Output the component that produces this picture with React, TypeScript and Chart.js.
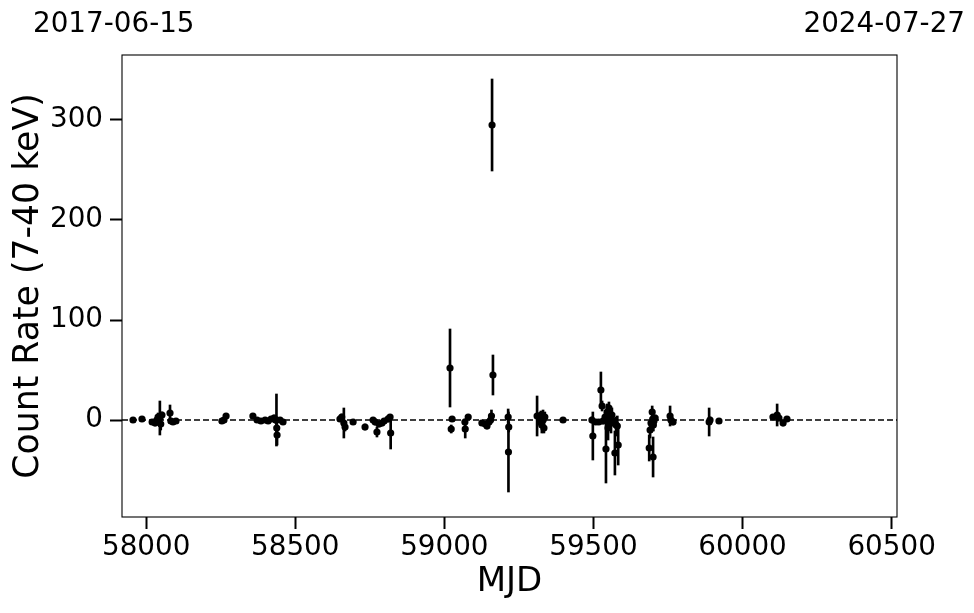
import React, { useEffect, useRef } from 'react';
import { Chart, registerables } from 'chart.js';

Chart.register(...registerables);

const mjd = [
  57956, 57986, 58020, 58030, 58036, 58040, 58046, 58049, 58053, 58080, 58083, 58090, 58100,
  58254, 58261, 58268, 58358, 58372, 58385, 58399, 58409, 58419, 58429, 58434, 58437, 58438, 58439, 58449, 58459,
  58650, 58656, 58663, 58667, 58694, 58734, 58761, 58768, 58774, 58781, 58791, 58798, 58811, 58818, 58820,
  59019, 59023, 59026, 59069, 59070, 59080, 59126, 59137, 59143, 59150, 59155, 59158, 59160, 59163,
  59214, 59216, 59215, 59311, 59321, 59324, 59327, 59331, 59334, 59337, 59398,
  59495, 59498, 59508, 59518, 59525, 59529, 59532, 59539, 59542, 59546, 59549, 59552, 59556, 59559, 59562, 59566,
  59572, 59576, 59580, 59583,
  59687, 59690, 59693, 59697, 59699, 59700, 59701, 59703, 59707, 59757, 59760, 59767,
  59888, 59891, 59921, 60102, 60116, 60122, 60136, 60149,
];

const rate = [
  0, 1, -2, -3, 0, 3, 2, -4, 5, 7, -1, -2, -1,
  -1, 0, 4, 4, 0, -1, 0, -1, 1, 2, 0, 0, -8, -15, 0, -2,
  1, 3, -3, -7, -2, -7, 0, -2, -12, -4, -3, -1, 1, 3, -13,
  52, -9, 1, -2, -9, 3, -3, -4, -6, -2, 0, 4, 295, 45,
  3, -7, -32, 4, -2, 5, -5, 0, -8, 3, 0,
  0, -16, -2, -2, 30, 14, -1, 3, -29, 8, -8, 12, 2, -3, 5, -1,
  -33, -5, -6, -25,
  -28, -10, -3, 8, 1, -37, -5, -1, 2, 4, 0, -2,
  -2, 0, -1, 3, 5, 2, -3, 1,
];

const rateErr = [
  1, 1, 2, 3, 3, 4, 17, 6, 3, 8, 2, 2, 2,
  2, 2, 2, 2, 2, 2, 2, 2, 2, 3, 3, 26, 6, 10, 2, 2,
  2, 3, 15, 4, 2, 3, 2, 3, 5, 3, 3, 2, 3, 2, 16,
  39, 4, 2, 3, 9, 2, 2, 2, 3, 3, 3, 6, 46, 20,
  8, 5, 40, 20, 4, 4, 8, 10, 5, 5, 2,
  3, 24, 2, 2, 18, 5, 3, 5, 34, 8, 12, 6, 8, 10, 7, 5,
  22, 8, 10, 20,
  13, 8, 5, 6, 4, 20, 6, 4, 3, 10, 3, 3,
  14, 3, 2, 2, 11, 3, 3, 2,
];

const xTickValues = [58000, 58500, 59000, 59500, 60000, 60500];
const yTickValues = [0, 100, 200, 300];
const xRange = [57919, 60518];
const yRange = [-97, 365];
const startDateLabel = '2017-06-15';
const endDateLabel = '2024-07-27';
const xTitle = 'MJD';
const yTitle = 'Count Rate (7-40 keV)';

const FONT = "'DejaVu Sans', sans-serif";

export default function App() {
  const ref = useRef<HTMLCanvasElement>(null);

  useEffect(() => {
    if (!ref.current) return;

    const framePlugin = {
      id: 'frameAndDates',
      afterDraw(chart: any) {
        const { ctx, chartArea } = chart;
        const { left, top, right, bottom } = chartArea;
        ctx.save();
        ctx.strokeStyle = '#000';
        ctx.lineWidth = 1.1;
        ctx.strokeRect(left, top, right - left, bottom - top);
        ctx.fillStyle = '#000';
        ctx.font = `27.8px ${FONT}`;
        ctx.textBaseline = 'alphabetic';
        ctx.textAlign = 'left';
        ctx.fillText(startDateLabel, 33, 32);
        ctx.textAlign = 'right';
        ctx.fillText(endDateLabel, 965, 32);
        ctx.restore();
      },
    };

    const points = mjd.map((x, i) => ({ x, y: rate[i] }));
    const bars = mjd.map((x, i) => ({ x, y: [rate[i] - rateErr[i], rate[i] + rateErr[i]] }));

    const chart = new Chart(ref.current, {
      type: 'scatter',
      data: {
        datasets: [
          {
            type: 'line',
            data: [
              { x: xRange[0], y: 0 },
              { x: xRange[1], y: 0 },
            ],
            borderColor: '#000',
            borderWidth: 1.5,
            borderDash: [6, 3],
            pointRadius: 0,
            showLine: true,
            order: 3,
          } as any,
          {
            type: 'bar',
            data: bars,
            backgroundColor: '#000',
            borderWidth: 0,
            barThickness: 2,
            grouped: false,
            order: 2,
          } as any,
          {
            type: 'scatter',
            data: points,
            pointRadius: 3.6,
            pointBackgroundColor: '#000',
            pointBorderWidth: 0,
            pointBorderColor: '#000',
            order: 1,
          } as any,
        ],
      },
      options: {
        responsive: false,
        animation: false,
        layout: { padding: { left: 0, top: 55, right: 77, bottom: 0 } },
        plugins: {
          legend: { display: false },
          tooltip: { enabled: false },
        },
        scales: {
          x: {
            type: 'linear',
            min: xRange[0],
            max: xRange[1],
            offset: false,
            afterBuildTicks: (s: any) => {
              s.ticks = xTickValues.map((v) => ({ value: v }));
            },
            afterFit: (s: any) => {
              s.height = 96;
            },
            ticks: {
              font: { family: FONT, size: 27.8 },
              color: '#000',
              padding: 2,
              maxRotation: 0,
              autoSkip: false,
              callback: (v: any) => String(v),
            },
            grid: {
              offset: false,
              drawOnChartArea: false,
              drawTicks: true,
              tickLength: 12,
              tickWidth: 2,
              tickColor: '#000',
            },
            border: { display: false },
            title: {
              display: true,
              text: xTitle,
              color: '#000',
              font: { family: FONT, size: 34 },
              padding: { top: 0, bottom: 10 },
            },
          },
          y: {
            type: 'linear',
            min: yRange[0],
            max: yRange[1],
            offset: false,
            afterBuildTicks: (s: any) => {
              s.ticks = yTickValues.map((v) => ({ value: v }));
            },
            afterFit: (s: any) => {
              s.width = 122;
            },
            ticks: {
              font: { family: FONT, size: 27.8 },
              color: '#000',
              padding: 7,
              autoSkip: false,
              callback: (v: any) => String(v),
            },
            grid: {
              offset: false,
              drawOnChartArea: false,
              drawTicks: true,
              tickLength: 12,
              tickWidth: 2,
              tickColor: '#000',
            },
            border: { display: false },
            title: {
              display: true,
              text: yTitle,
              color: '#000',
              font: { family: FONT, size: 34.7 },
              padding: { top: 8, bottom: 0 },
            },
          },
        },
      } as any,
      plugins: [framePlugin],
    });

    return () => chart.destroy();
  }, []);

  return (
    <div style={{ position: 'fixed', left: 0, top: 0, width: 974, height: 613, background: '#fff' }}>
      <canvas ref={ref} width={974} height={613} style={{ display: 'block', width: 974, height: 613 }} />
    </div>
  );
}
